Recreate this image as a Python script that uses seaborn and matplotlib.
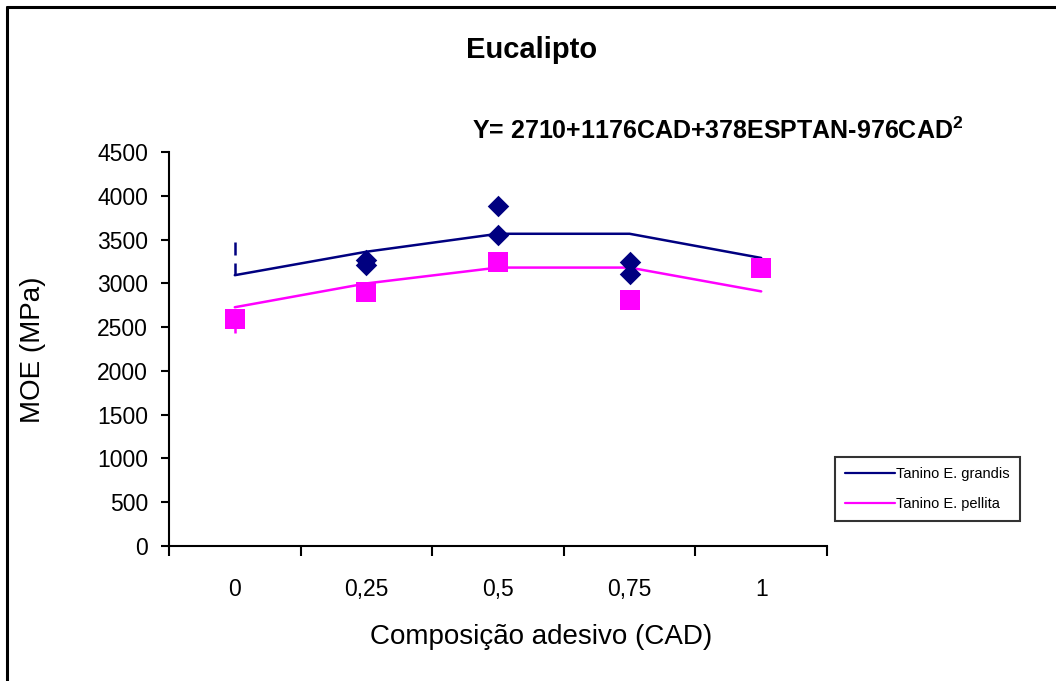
import matplotlib
matplotlib.use("Agg")
import matplotlib.pyplot as plt
from matplotlib.lines import Line2D
import seaborn as sns
import pandas as pd
import numpy as np

# ---- data ----
categories = ["0", "0,25", "0,5", "0,75", "1"]
series_names = ["Tanino E. grandis", "Tanino E. pellita"]
grandis_fit = [3093, 3361, 3566, 3566, 3290]
pellita_fit = [2727, 2999, 3180, 3180, 2908]
grandis_obs_cat = ["0,25", "0,25", "0,5", "0,5", "0,75", "0,75"]
grandis_obs = [3262, 3205, 3879, 3547, 3244, 3112]
pellita_obs_cat = ["0", "0,25", "0,5", "0,75", "1"]
pellita_obs = [2591, 2897, 3248, 2814, 3176]
# short vertical (error-bar like) segments: category, low, high
grandis_bar_cat = ["0", "0"]
grandis_bar_low = [3093, 3324]
grandis_bar_high = [3235, 3468]
pellita_bar_cat = ["0", "0,75"]
pellita_bar_low = [2430, 2814]
pellita_bar_high = [2591, 2925]
yticks = [0, 500, 1000, 1500, 2000, 2500, 3000, 3500, 4000, 4500]
title = "Eucalipto"
equation = "Y= 2710+1176CAD+378ESPTAN-976CAD$^{\\mathbf{2}}$"
xlabel = "Composição adesivo (CAD)"
ylabel = "MOE (MPa)"

NAVY = "#000080"
MAGENTA = "#FF00FF"

sns.set_theme(style="white")
plt.rcParams["font.family"] = ["Liberation Sans", "DejaVu Sans"]
plt.rcParams["mathtext.fontset"] = "custom"
plt.rcParams["mathtext.rm"] = "Liberation Sans"
plt.rcParams["mathtext.bf"] = "Liberation Sans:bold"
plt.rcParams["text.color"] = "black"
plt.rcParams["xtick.color"] = "black"
plt.rcParams["ytick.color"] = "black"

pos = {c: i for i, c in enumerate(categories)}

fit_df = pd.DataFrame({
    "x": [pos[c] for c in categories] * 2,
    "y": grandis_fit + pellita_fit,
    "serie": [series_names[0]] * len(categories) + [series_names[1]] * len(categories),
})
obs_g = pd.DataFrame({"x": [pos[c] for c in grandis_obs_cat], "y": grandis_obs})
obs_p = pd.DataFrame({"x": [pos[c] for c in pellita_obs_cat], "y": pellita_obs})

fig = plt.figure(figsize=(10.56, 6.81), dpi=100)
ax = fig.add_axes([169 / 1056, 1 - 546 / 681, (827 - 169) / 1056, (546 - 152) / 681])

sns.lineplot(data=fit_df, x="x", y="y", hue="serie", palette=[NAVY, MAGENTA],
             linewidth=1.8, ax=ax, legend=False, sort=False, zorder=2)
ax.vlines([pos[c] for c in grandis_bar_cat], grandis_bar_low, grandis_bar_high,
          colors=NAVY, linewidth=1.8, zorder=2)
ax.vlines([pos[c] for c in pellita_bar_cat], pellita_bar_low, pellita_bar_high,
          colors=MAGENTA, linewidth=1.8, zorder=2)
sns.scatterplot(data=obs_g, x="x", y="y", marker="D", s=120, color=NAVY,
                edgecolor=NAVY, linewidth=0, ax=ax, zorder=3)
sns.scatterplot(data=obs_p, x="x", y="y", marker="s", s=190, color=MAGENTA,
                edgecolor=MAGENTA, linewidth=0, ax=ax, zorder=3)

ax.set_xlim(-0.5, len(categories) - 0.5)
ax.set_ylim(0, 4500)
ax.set_yticks(yticks)
ax.set_yticklabels([str(v) for v in yticks], fontsize=16.5)
ax.set_xticks(np.arange(-0.5, len(categories), 1.0))
ax.set_xticklabels([])
ax.set_xticks(np.arange(len(categories)), minor=True)
ax.set_xticklabels(categories, minor=True, fontsize=16.5)
ax.tick_params(axis="x", which="major", direction="out", length=7, width=1.5, color="black", bottom=True)
ax.tick_params(axis="x", which="minor", length=0, pad=23, bottom=True)
ax.tick_params(axis="y", direction="out", length=6, width=1.5, color="black", left=True, pad=9)
for s in ["top", "right"]:
    ax.spines[s].set_visible(False)
for s in ["left", "bottom"]:
    ax.spines[s].set_color("black")
    ax.spines[s].set_linewidth(1.5)
ax.set_xlabel("")
ax.set_ylabel("")
ax.grid(False)

fig.text(33 / 1056, 1 - 350 / 681, ylabel, rotation=90, ha="center", va="center", fontsize=20)
fig.text(541 / 1056, 1 - 637 / 681, xlabel, ha="center", va="center", fontsize=20)
fig.text(532 / 1056, 1 - 50 / 681, title, ha="center", va="center", fontsize=21, fontweight="bold")
fig.text(472 / 1056, 1 - 131 / 681, equation, ha="left", va="center", fontsize=18, fontweight="bold")

handles = [Line2D([0], [0], color=NAVY, lw=1.6), Line2D([0], [0], color=MAGENTA, lw=1.6)]
leg = fig.legend(handles, series_names, loc="upper left",
                 bbox_to_anchor=(835 / 1056, 1 - 457 / 681), fontsize=10.5,
                 frameon=True, fancybox=False, handlelength=3.4, handletextpad=0.1,
                 borderpad=0.7, labelspacing=1.1, borderaxespad=0)
leg.get_frame().set_edgecolor("black")
leg.get_frame().set_linewidth(1.5)

# outer frame (top and left edges visible)
fig.add_artist(Line2D([7 / 1056, 7 / 1056], [0, 1 - 7 / 681], color="black", lw=2.2,
                      transform=fig.transFigure))
fig.add_artist(Line2D([7 / 1056, 1], [1 - 7 / 681, 1 - 7 / 681], color="black", lw=2.2,
                      transform=fig.transFigure))

fig.savefig("out.png", dpi=100)
